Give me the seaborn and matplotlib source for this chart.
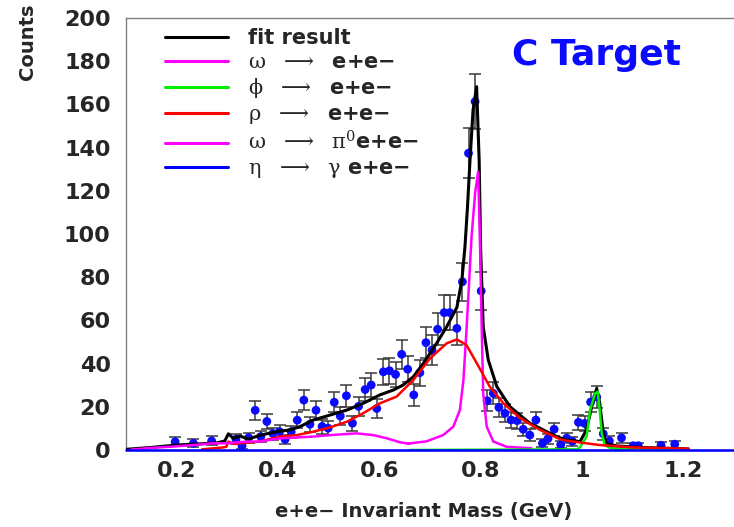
import numpy as np
import pandas as pd
import matplotlib
matplotlib.use("Agg")
import matplotlib.pyplot as plt
import seaborn as sns
from matplotlib.ticker import MultipleLocator

# ---------------- data ----------------
mass = [0.197, 0.233, 0.269, 0.317, 0.329, 0.342, 0.355, 0.366, 0.378, 0.390,
        0.403, 0.414, 0.426, 0.438, 0.451, 0.463, 0.475, 0.487, 0.499, 0.511,
        0.523, 0.535, 0.547, 0.559, 0.572, 0.584, 0.595, 0.608, 0.620, 0.632,
        0.644, 0.656, 0.668, 0.680, 0.692, 0.704, 0.715, 0.728, 0.739, 0.753,
        0.764, 0.776, 0.789, 0.801, 0.813, 0.825, 0.836, 0.848, 0.860, 0.872,
        0.884, 0.897, 0.909, 0.922, 0.933, 0.945, 0.958, 0.970, 0.981, 0.993,
        1.005, 1.017, 1.029, 1.042, 1.054, 1.078, 1.101, 1.111, 1.156, 1.183]
counts = [3.8, 3.1, 4.2, 5.0, 1.9, 5.7, 18.4, 6.2, 13.2, 7.6,
          8.5, 4.9, 8.4, 13.8, 23.1, 11.9, 18.4, 10.9, 10.1, 22.1,
          15.7, 25.1, 12.4, 20.2, 28.0, 30.1, 19.2, 36.2, 36.7, 35.0,
          44.3, 37.4, 25.5, 35.8, 49.7, 46.3, 55.9, 63.6, 63.6, 56.3,
          77.9, 137.4, 161.3, 73.6, 22.8, 26.2, 19.7, 17.0, 13.9, 13.6,
          9.6, 6.9, 13.9, 3.1, 5.3, 9.6, 2.5, 5.5, 4.0, 12.8,
          12.3, 22.2, 24.5, 7.5, 4.2, 5.6, 2.0, 2.0, 2.2, 2.7]
errors = [2.1, 1.9, 2.1, 2.3, 1.5, 2.4, 4.3, 2.5, 3.6, 2.8,
          2.9, 2.2, 2.9, 3.7, 4.8, 3.5, 4.3, 3.3, 3.2, 4.7,
          4.0, 5.0, 3.5, 4.5, 5.3, 5.5, 4.4, 6.0, 6.1, 5.9,
          6.7, 6.1, 5.1, 6.0, 7.1, 6.8, 7.5, 8.0, 8.0, 7.5,
          8.8, 11.7, 12.7, 8.6, 4.8, 5.1, 4.4, 4.1, 3.7, 3.7,
          3.1, 2.6, 3.7, 1.8, 2.3, 3.1, 1.6, 2.4, 2.0, 3.6,
          3.5, 4.7, 5.0, 2.7, 2.1, 2.4, 1.4, 1.4, 1.5, 1.6]

fit_x = [0.100, 0.150, 0.200, 0.250, 0.280, 0.295, 0.302, 0.312, 0.325, 0.341,
         0.364, 0.397, 0.424, 0.443, 0.470, 0.503, 0.536, 0.568, 0.601, 0.628,
         0.647, 0.667, 0.687, 0.700, 0.713, 0.733, 0.753, 0.763, 0.769, 0.774,
         0.779, 0.785, 0.792, 0.797, 0.800, 0.805, 0.815, 0.832, 0.858, 0.897,
         0.950, 0.970, 0.996, 1.009, 1.019, 1.029, 1.035, 1.042, 1.048, 1.068,
         1.114, 1.210]
fit_y = [0.3, 1.2, 2.3, 2.9, 3.3, 4.2, 7.5, 5.4, 6.5, 5.0,
         6.8, 8.5, 9.3, 10.8, 13.9, 16.2, 18.5, 21.6, 25.5, 27.8,
         30.1, 33.9, 40.1, 44.7, 49.4, 57.1, 66.0, 78.7, 94.1, 112.6,
         134.3, 157.4, 168.2, 134.3, 92.6, 57.1, 41.7, 29.3, 20.0, 12.4,
         6.2, 4.6, 3.9, 9.3, 20.0, 28.5, 21.6, 7.7, 3.1, 1.9,
         1.2, 0.5]

omega_ee_x = [0.655, 0.693, 0.726, 0.746, 0.759, 0.766, 0.772, 0.776, 0.782, 0.789,
              0.795, 0.798, 0.802, 0.805, 0.812, 0.825, 0.851, 0.871, 0.900]
omega_ee_y = [2.9, 4.0, 6.9, 10.8, 18.5, 32.4, 55.5, 72.5, 98.7, 118.8,
              128.8, 103.4, 57.1, 26.2, 10.8, 3.9, 1.5, 1.2, 0.8]

phi_x = [0.660, 0.990, 0.996, 1.009, 1.016, 1.026, 1.031, 1.035, 1.039, 1.045,
         1.055, 1.080, 1.210]
phi_y = [0.0, 0.3, 1.2, 6.2, 18.5, 26.2, 27.0, 18.5, 7.7, 2.3,
         1.0, 0.3, 0.0]

rho_x = [0.250, 0.292, 0.298, 0.302, 0.312, 0.338, 0.364, 0.404, 0.437, 0.470,
         0.503, 0.536, 0.568, 0.601, 0.634, 0.667, 0.700, 0.733, 0.753, 0.772,
         0.798, 0.818, 0.845, 0.878, 0.917, 0.957, 0.970, 1.035, 1.101, 1.210]
rho_y = [0.3, 1.2, 1.5, 3.9, 2.8, 3.4, 3.9, 6.2, 6.9, 8.5,
         10.5, 13.1, 17.0, 21.6, 24.7, 32.4, 42.4, 49.4, 51.2, 48.6,
         37.8, 29.3, 21.6, 14.7, 9.3, 5.0, 4.3, 2.3, 1.2, 0.6]

dalitz_x = [0.110, 0.150, 0.187, 0.233, 0.272, 0.299, 0.338, 0.364, 0.404, 0.470,
            0.503, 0.555, 0.588, 0.615, 0.640, 0.660]
dalitz_y = [0.2, 1.0, 1.5, 2.3, 3.1, 3.1, 3.9, 3.9, 5.4, 6.2,
            6.9, 7.7, 6.9, 5.4, 3.6, 2.9]

eta_x = [0.10, 1.30]
eta_y = [0.0, 0.0]

x_ticks = [0.2, 0.4, 0.6, 0.8, 1.0, 1.2]
x_ticklabels = ["0.2", "0.4", "0.6", "0.8", "1", "1.2"]
y_ticks = [0, 20, 40, 60, 80, 100, 120, 140, 160, 180, 200]

legend_labels = ["fit result",
                 r"$\mathrm{\omega}$  $\longrightarrow$  e+e−",
                 r"$\mathrm{\phi}$  $\longrightarrow$  e+e−",
                 r"$\mathrm{\rho}$  $\longrightarrow$  e+e−",
                 r"$\mathrm{\omega}$  $\longrightarrow$  $\mathrm{\pi}^{0}$e+e−",
                 r"$\mathrm{\eta}$  $\longrightarrow$  $\mathrm{\gamma}$ e+e−"]

# ---------------- style ----------------
sns.set_style("white")
plt.rcParams["font.family"] = ["DejaVu Sans"]
plt.rcParams["mathtext.fontset"] = "dejavuserif"

fig = plt.figure(figsize=(7.34, 5.27), dpi=100)
ax = fig.add_axes([126 / 734, 77 / 527, 608 / 734, 432 / 527])

pts = pd.DataFrame({"mass": mass, "counts": counts, "err": errors})

ax.errorbar(pts["mass"], pts["counts"], yerr=pts["err"], fmt="none",
            ecolor="#3a3a3a", elinewidth=1.1, capsize=4, capthick=1.1, zorder=2)
sns.scatterplot(data=pts, x="mass", y="counts", color="#0a0aff", s=40,
                edgecolor="none", ax=ax, zorder=3)

curves = [
    ("fit", fit_x, fit_y, "#000000", 2.2),
    ("omega_ee", omega_ee_x, omega_ee_y, "#ff00ff", 1.8),
    ("phi", phi_x, phi_y, "#00ee00", 1.8),
    ("rho", rho_x, rho_y, "#ff0000", 1.8),
    ("dalitz", dalitz_x, dalitz_y, "#ff00ff", 1.8),
    ("eta", eta_x, eta_y, "#0000ff", 1.8),
]
handles = []
for name, xs, ys, col, lw in curves:
    df = pd.DataFrame({"x": xs, "y": ys})
    sns.lineplot(data=df, x="x", y="y", color=col, lw=lw, ax=ax,
                 sort=False, estimator=None, zorder=4)
    ln = ax.get_lines()[-1]
    if name == "eta":
        ln.set_clip_on(False)
    handles.append(ln)

ax.set_xlim(0.1, 1.3)
ax.set_ylim(0, 200)
ax.set_xticks(x_ticks)
ax.set_xticklabels(x_ticklabels)
ax.set_yticks(y_ticks)
ax.xaxis.set_minor_locator(MultipleLocator(0.05))
ax.yaxis.set_minor_locator(MultipleLocator(5))
ax.tick_params(axis="both", which="major", direction="in", length=8, width=1,
               color="#333333", labelsize=16)
ax.tick_params(axis="both", which="minor", direction="in", length=4, width=1,
               color="#333333")
ax.tick_params(axis="y", which="major", pad=11)
ax.tick_params(axis="x", which="major", pad=8)
ax.tick_params(top=False, right=False, which="both")
for lab in ax.get_xticklabels() + ax.get_yticklabels():
    lab.set_fontweight("bold")

for side in ["left", "top", "bottom"]:
    ax.spines[side].set_color("#808080")
    ax.spines[side].set_linewidth(1)
ax.spines["right"].set_visible(False)

ax.set_xlabel("e+e− Invariant Mass (GeV)", fontsize=14, fontweight="bold",
              va="top", ha="center")
ax.xaxis.set_label_coords((424 - 126) / 608, (450 - 502) / 432)
ax.set_ylabel("Counts", fontsize=14, fontweight="bold", rotation=90,
              ha="center", va="top", rotation_mode="default")
ax.yaxis.set_label_coords((27 - 126) / 608, (450 - 4) / 432)

ax.text((597 - 126) / 608, (450 - 55) / 432, "C Target", color="#0a0aff",
        fontsize=26, fontweight="bold", ha="center", va="center",
        transform=ax.transAxes)

leg = ax.legend(handles, legend_labels, loc="upper left",
                bbox_to_anchor=(165 / 734, 1 - 28 / 527),
                bbox_transform=fig.transFigure, frameon=False,
                prop={"size": 15, "weight": "bold"}, handlelength=3.0,
                handletextpad=1.0, labelspacing=0.2, borderpad=0,
                borderaxespad=0)
for lh in leg.get_lines():
    lh.set_linewidth(2.2)

fig.savefig("out.png", dpi=100)
